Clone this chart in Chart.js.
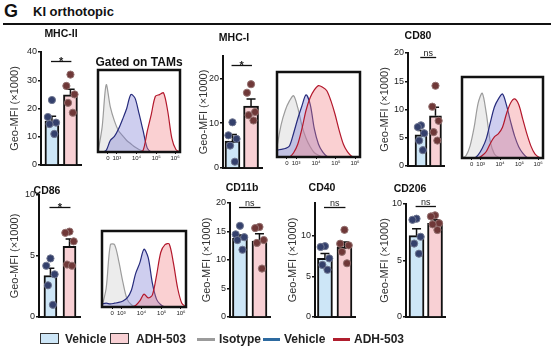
<!DOCTYPE html>
<html>
<head>
<meta charset="utf-8">
<script src="https://cdn.jsdelivr.net/npm/chart.js@4.4.1/dist/chart.umd.min.js"></script>
<style>
  body { margin: 0; background: #fff; width: 551px; height: 351px; position: relative; overflow: hidden;
         font-family: "Liberation Sans", Arial, sans-serif; color: #111; }
  canvas { position: absolute; }
  .txt { position: absolute; white-space: nowrap; line-height: 14px; }
  .ptitle { position: absolute; white-space: nowrap; font-weight: bold; font-size: 10.5px; transform: translate(-50%, -50%); }
  .legbox { position: absolute; width: 17px; height: 9px; border: 1.5px solid #333; }
  .legline { position: absolute; height: 3px; }
  .legtxt { position: absolute; font-weight: bold; font-size: 12px; line-height: 14px; color: #222; }
</style>
</head>
<body>
<div class="txt" style="left:4px;top:2px;font-size:18px;line-height:19px;font-weight:bold;">G</div>
<div class="txt" style="left:33px;top:5px;font-size:13px;font-weight:bold;">KI orthotopic</div>
<div style="position:absolute;left:3px;top:23px;width:548px;height:2px;background:#111;"></div>

<script>
// 分组与标记
const groups = ['Vehicle', 'ADH-503'];
const markers = ['MHC-II', 'MHC-I', 'CD80', 'CD86', 'CD11b', 'CD40', 'CD206'];

// 柱高 (均值) 与误差 (SEM)
const vehicleMean = [15.5, 6.0, 5.5, 3.4, 13.8, 7.2, 7.2];
const adhMean = [24.8, 13.8, 8.9, 5.8, 13.3, 8.6, 8.3];
const vehicleSem = [1.8, 1.5, 0.8, 0.6, 0.6, 0.6, 0.6];
const adhSem = [2.0, 1.6, 1.5, 0.6, 1.3, 0.6, 0.3];

// 单个样本点
const vehiclePoints = [
  [23, 17, 15, 14.5, 11],
  [10.2, 7.3, 6.5, 5, 1.4],
  [7.2, 6.9, 5.8, 4.5, 2.8],
  [4.8, 4.2, 3.5, 2.6, 1.0],
  [16, 14.5, 14, 13.5, 11.8],
  [8.7, 8.6, 7.2, 6.4, 5.8],
  [8.7, 8.6, 7.1, 6.5, 5.6]
];
const adhPoints = [
  [32, 28, 25, 22, 18.5],
  [18.7, 16.8, 12.5, 11.8, 10.6],
  [14.2, 10.5, 8, 6, 4.5],
  [7, 6.9, 6.2, 4.3, 4.2],
  [15.8, 15.6, 13.5, 13, 8.5],
  [10.7, 9, 8.8, 8, 6.6],
  [9, 8.9, 8.3, 8.2, 7.7]
];

// 显著性
const sigText = ['*', '*', 'ns', '*', 'ns', 'ns', 'ns'];
const sigLevel = [36.7, 23, 19.3, 9.0, 19.3, 13.5, 9.8];

// y轴
const yMax = [40, 25, 20, 10, 20, 14, 10];
const yStep = [10, 10, 5, 5, 5, 5, 5];

// 流式直方图
const histMarkers = ['MHC-II', 'MHC-I', 'CD80', 'CD86'];
const histBins = [0, 5, 10, 15, 20, 25, 30, 35, 40, 45, 50, 55, 60, 65, 70, 75, 80, 85, 90, 95, 100];
const histTickPos = [12, 23, 47, 71, 94];
const histTickLabels = ['0', '10³', '10⁴', '10⁵', '10⁶'];
const isotypeCounts = [
  [0, 30, 82, 55, 38, 26, 20, 14, 10, 6, 3, 1, 0, 0, 0, 0, 0, 0, 0, 0, 0],
  [12, 38, 55, 66, 72, 58, 37, 22, 12, 5, 2, 0, 0, 0, 0, 0, 0, 0, 0, 0, 0],
  [0, 3, 15, 38, 68, 80, 55, 20, 5, 1, 0, 0, 0, 0, 0, 0, 0, 0, 0, 0, 0],
  [0, 25, 82, 82, 60, 32, 10, 3, 0, 0, 0, 0, 0, 0, 0, 0, 0, 0, 0, 0, 0]
];
const vehicleCounts = [
  [0, 0, 2, 14, 19, 28, 40, 53, 70, 66, 47, 26, 5, 0, 0, 0, 0, 0, 0, 0, 0],
  [8, 9, 10, 13, 28, 45, 60, 73, 62, 33, 15, 6, 1, 0, 0, 0, 0, 0, 0, 0, 0],
  [0, 0, 0, 0, 4, 12, 24, 44, 63, 73, 79, 65, 45, 27, 14, 6, 1, 0, 0, 0, 0],
  [4, 5, 4, 5, 6, 8, 12, 22, 44, 58, 76, 65, 31, 10, 3, 0, 0, 0, 0, 0, 0]
];
const adhCounts = [
  [0, 0, 0, 0, 0, 0, 0, 0, 0, 0, 0, 2, 25, 46, 68, 70, 72, 50, 17, 3, 0],
  [0, 0, 0, 0, 5, 15, 33, 55, 70, 79, 84, 82, 78, 66, 50, 31, 15, 6, 1, 0, 0],
  [0, 0, 0, 0, 0, 3, 8, 18, 26, 30, 38, 55, 68, 73, 66, 48, 30, 15, 5, 1, 0],
  [0, 0, 0, 0, 0, 0, 0, 0, 2, 8, 17, 12, 16, 42, 72, 82, 83, 58, 25, 5, 0]
];

// 版面位置 (像素)
const barLayout = [
  { axisX: 41, top: 52, bottom: 165, right: 81, titleX: 15, xMin: -0.59, xMax: 1.57, bar: 14, head: [61, 33] },
  { axisX: 223, top: 56, bottom: 168, right: 262, titleX: 204, xMin: -0.51, xMax: 1.59, bar: 15, head: [234, 37] },
  { axisX: 408, top: 53, bottom: 166, right: 444, titleX: 385, xMin: -0.9, xMax: 1.59, bar: 12, head: [418, 35] },
  { axisX: 39, top: 195, bottom: 317, right: 80, titleX: 15, xMin: -0.6, xMax: 1.55, bar: 13, head: [47, 190] },
  { axisX: 230, top: 203, bottom: 317, right: 270, titleX: 207, xMin: -0.51, xMax: 1.54, bar: 15, head: [242, 187] },
  { axisX: 315, top: 203, bottom: 317, right: 355, titleX: 293, xMin: -0.51, xMax: 1.54, bar: 15, head: [322, 187] },
  { axisX: 406, top: 204, bottom: 317, right: 445, titleX: 385, xMin: -0.57, xMax: 1.54, bar: 15, head: [410, 188] }
];
const histLayout = [
  { l: 98, t: 70, r: 180, b: 152 },
  { l: 277, t: 72, r: 360, b: 157 },
  { l: 462, t: 77, r: 543, b: 158 },
  { l: 102, t: 231, r: 186, b: 307 }
];

const FONT = '"Liberation Sans", Arial, sans-serif';
const TITLE_SIZE = 11;
const vehFill = '#cde6f7';
const adhFill = '#f8d0d4';
const jitter = [0, -0.22, 0.22, -0.13, 0.13];

function addCanvas(left, top, w, h) {
  const cv = document.createElement('canvas');
  cv.width = w; cv.height = h;
  cv.style.left = left + 'px';
  cv.style.top = top + 'px';
  document.body.appendChild(cv);
  return cv.getContext('2d');
}

function addText(cls, html, x, y, style) {
  const d = document.createElement('div');
  d.className = cls;
  d.innerHTML = html;
  d.style.left = x + 'px';
  d.style.top = y + 'px';
  if (style) d.style.cssText += style;
  document.body.appendChild(d);
}

// 误差线 + 显著性标记
const barExtras = {
  id: 'barExtras',
  afterDatasetDraw(chart, args) {
    if (args.index !== 2) return;
    const k = chart.options.plugins.barExtras.k;
    const xs = chart.scales.x, ys = chart.scales.y, c = chart.ctx;
    const means = [vehicleMean[k], adhMean[k]];
    const sems = [vehicleSem[k], adhSem[k]];
    c.save();
    c.strokeStyle = '#111';
    c.lineWidth = 1.5;
    means.forEach((m, g) => {
      const x = xs.getPixelForValue(g);
      const y0 = ys.getPixelForValue(m);
      const y1 = ys.getPixelForValue(m + sems[g]);
      const cw = barLayout[k].bar * 0.3;
      c.beginPath();
      c.moveTo(x, y0); c.lineTo(x, y1);
      c.moveTo(x - cw, y1); c.lineTo(x + cw, y1);
      c.stroke();
    });
    c.restore();
  },
  afterDraw(chart) {
    const k = chart.options.plugins.barExtras.k;
    const xs = chart.scales.x, ys = chart.scales.y, c = chart.ctx;
    const y = Math.round(ys.getPixelForValue(sigLevel[k])) + 0.5;
    const x0 = xs.getPixelForValue(-0.05), x1 = xs.getPixelForValue(1.05);
    c.save();
    c.strokeStyle = '#111';
    c.lineWidth = 1.3;
    c.beginPath(); c.moveTo(x0, y); c.lineTo(x1, y); c.stroke();
    c.fillStyle = '#222';
    c.textAlign = 'center';
    c.textBaseline = 'alphabetic';
    if (sigText[k] === '*') {
      c.font = 'bold 11px ' + FONT;
      c.fillText('*', (x0 + x1) / 2, y + 3);
    } else {
      c.font = '9px ' + FONT;
      c.fillText(sigText[k], (x0 + x1) / 2, y - 2);
    }
    c.restore();
  }
};

function barPanel(k) {
  const L = barLayout[k];
  const left = Math.round(L.titleX - TITLE_SIZE * 0.6);
  const top = L.top - 30;
  const padR = 5, padB = 8;
  const w = L.right - left + padR;
  const h = L.bottom - top + padB;
  const ctx = addCanvas(left, top, w, h);
  const axisW = L.axisX - left;

  const vehPts = vehiclePoints[k].map((v, i) => ({ x: 0 + jitter[i % jitter.length], y: v }));
  const adhPts = adhPoints[k].map((v, i) => ({ x: 1 + jitter[i % jitter.length], y: v }));

  new Chart(ctx, {
    type: 'bar',
    data: {
      datasets: [
        { type: 'scatter', label: groups[0], data: vehPts, order: 0, pointRadius: 3.6,
          backgroundColor: '#34406c', borderColor: '#6f7690', borderWidth: 1 },
        { type: 'scatter', label: groups[1], data: adhPts, order: 0, pointRadius: 3.6,
          backgroundColor: '#6f3838', borderColor: '#93706f', borderWidth: 1 },
        { type: 'bar', label: markers[k], order: 1,
          data: [{ x: 0, y: vehicleMean[k] }, { x: 1, y: adhMean[k] }],
          backgroundColor: [vehFill, adhFill], borderColor: '#111', borderWidth: 2,
          barThickness: L.bar }
      ]
    },
    options: {
      responsive: false,
      animation: false,
      layout: { padding: { left: 0, top: 30, right: padR, bottom: padB } },
      plugins: { legend: { display: false }, tooltip: { enabled: false }, barExtras: { k: k } },
      scales: {
        x: {
          type: 'linear', min: L.xMin, max: L.xMax, offset: false,
          ticks: { display: false },
          grid: { display: false, offset: false },
          border: { display: true, color: '#111', width: 2 },
          afterFit: s => { s.height = 0; }
        },
        y: {
          min: 0, max: yMax[k],
          ticks: { stepSize: yStep[k], color: '#222', font: { family: FONT, size: 9 }, padding: 1 },
          afterBuildTicks: s => { s.ticks = s.ticks.filter(t => t.value % yStep[k] === 0); },
          grid: { drawOnChartArea: false, drawTicks: true, tickLength: 3, color: '#111', lineWidth: 1.5 },
          border: { display: true, color: '#111', width: 2 },
          title: { display: true, text: 'Geo-MFI (×1000)', color: '#333',
                   font: { family: FONT, size: TITLE_SIZE }, padding: 0 },
          afterFit: s => { s.width = axisW; }
        }
      }
    },
    plugins: [barExtras]
  });

  addText('ptitle', markers[k], L.head[0], L.head[1]);
}

const frame = {
  id: 'frame',
  afterDraw(chart) {
    const a = chart.chartArea, c = chart.ctx;
    c.save();
    c.strokeStyle = '#111';
    c.lineWidth = 2.5;
    c.strokeRect(a.left, a.top, a.right - a.left, a.bottom - a.top);
    c.restore();
  }
};

function histPanel(k) {
  const H = histLayout[k];
  const left = H.l - 8, top = H.t - 4;
  const w = H.r - H.l + 16, h = H.b - H.t + 4 + 14;
  const ctx = addCanvas(left, top, w, h);
  const toXY = arr => histBins.map((x, i) => ({ x: x, y: arr[i] }));
  const line = (arr, stroke, fill) => ({
    data: toXY(arr), borderColor: stroke, backgroundColor: fill, fill: 'origin',
    borderWidth: 1.2, pointRadius: 0, tension: 0.3
  });

  new Chart(ctx, {
    type: 'line',
    data: {
      datasets: [
        line(adhCounts[k], '#b3182c', 'rgba(242,125,130,0.36)'),
        line(vehicleCounts[k], '#262b7c', 'rgba(120,120,210,0.36)'),
        line(isotypeCounts[k], '#9c9c9c', 'rgba(200,200,200,0.35)')
      ]
    },
    options: {
      responsive: false,
      animation: false,
      layout: { padding: { left: 8, right: 8, top: 4, bottom: 0 } },
      plugins: { legend: { display: false }, tooltip: { enabled: false } },
      scales: {
        x: {
          type: 'linear', min: 0, max: 100,
          afterBuildTicks: s => { s.ticks = histTickPos.map(v => ({ value: v })); },
          ticks: { callback: (v, i) => histTickLabels[i], autoSkip: false, maxRotation: 0,
                   color: '#222', font: { family: FONT, size: 6 }, padding: 1 },
          grid: { drawOnChartArea: false, tickLength: 2, color: '#111' },
          border: { display: false },
          afterFit: s => { s.height = 14; }
        },
        y: { display: false, min: 0, max: 100 }
      }
    },
    plugins: [frame]
  });
}

markers.forEach((m, k) => barPanel(k));
histMarkers.forEach((m, k) => histPanel(k));

addText('txt', 'Gated on TAMs', 139, 55, 'font-weight:bold;font-size:12px;transform:translateX(-50%);');

// 图例
addText('legbox', '', 40, 333, 'background:' + vehFill + ';');
addText('legtxt', 'Vehicle', 65, 332);
addText('legbox', '', 110, 333, 'background:' + adhFill + ';');
addText('legtxt', 'ADH-503', 136, 332);
addText('legline', '', 197, 338, 'width:18px;background:#9b9b9b;');
addText('legtxt', 'Isotype', 219, 332);
addText('legline', '', 263, 338, 'width:17px;background:#2d6aa0;');
addText('legtxt', 'Vehicle', 284, 332);
addText('legline', '', 333, 338, 'width:17px;background:#b01e2e;');
addText('legtxt', 'ADH-503', 354, 332);
</script>
</body>
</html>
